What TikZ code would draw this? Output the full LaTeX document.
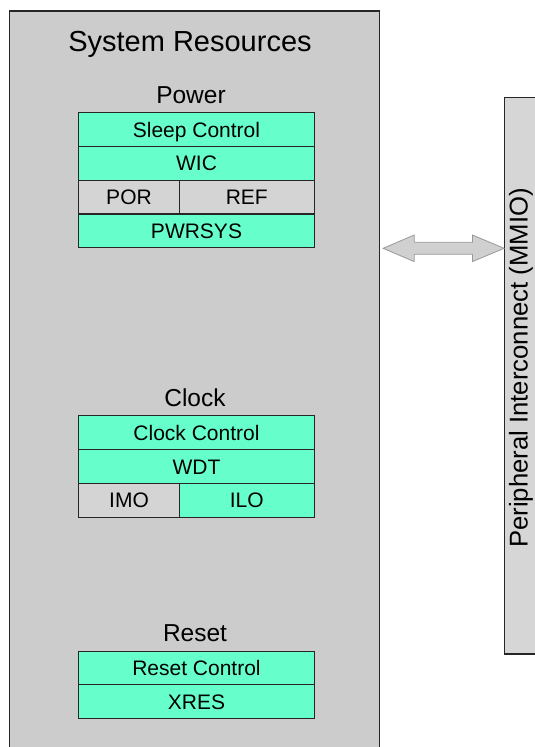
\documentclass[tikz,border=0pt]{standalone}
\usepackage{fontspec}
\setmainfont{Liberation Sans}
\usetikzlibrary{calc}
\definecolor{sysgray}{HTML}{CCCCCC}
\definecolor{mmiogray}{HTML}{D6D6D6}
\definecolor{cellgreen}{HTML}{66FFCC}
\definecolor{cellgray}{HTML}{D4D4D4}
\definecolor{arrowfill}{HTML}{D0D0D0}
\definecolor{arrowline}{HTML}{999999}
\tikzset{
  outerbox/.style={draw=black!85, line width=1.8pt, inner sep=0pt},
  cellbox/.style={draw=black!85, line width=0.9pt, inner sep=0pt, minimum height=33.7pt,
    font=\fontsize{21pt}{23pt}\selectfont, text height=15pt, text depth=0pt},
  greencell/.style={cellbox, fill=cellgreen},
  graycell/.style={cellbox, fill=cellgray},
  fullw/.style={minimum width=235.6pt},
  secttitle/.style={font=\fontsize{24.5pt}{26pt}\selectfont, anchor=base, inner sep=0pt},
}
\begin{document}
\begin{tikzpicture}[x=1pt,y=-1pt]
\clip (0,0) rectangle (535,747);
\fill[white] (0,0) rectangle (535,747);
% outer boxes
\node[outerbox, fill=sysgray, minimum width=370pt, minimum height=760pt] (sys) at (194.5,391) {};
\node[outerbox, fill=mmiogray, minimum width=50pt, minimum height=556.5pt] (mmio) at (529.5,375.75) {};
\node[rotate=90, font=\fontsize{25.7pt}{27pt}\selectfont, inner sep=0pt] (mmiolbl) at (521,368) {Peripheral Interconnect (MMIO)};
% title
\node[font=\fontsize{29pt}{31pt}\selectfont, anchor=base, inner sep=0pt] (title) at (190,51.5) {System Resources};
% Power
\node[secttitle] (power) at (191,103.5) {Power};
\node[greencell, fullw] (sleep) at (196.5,129.5) {Sleep Control};
\node[greencell, fullw] (wic) at (196.5,163.15) {WIC};
\node[graycell, minimum width=100.6pt] (por) at (129,197) {POR};
\node[graycell, minimum width=135pt] (ref) at (246.8,197) {REF};
\node[greencell, fullw] (pwrsys) at (196.5,231) {PWRSYS};
% Clock
\node[secttitle] (clock) at (195,406.7) {Clock};
\node[greencell, fullw] (clkctl) at (196.5,432.7) {Clock Control};
\node[greencell, fullw] (wdt) at (196.5,466.5) {WDT};
\node[graycell, minimum width=100.6pt] (imo) at (129,500.2) {IMO};
\node[greencell, minimum width=135pt] (ilo) at (246.8,500.2) {ILO};
% Reset
\node[secttitle] (reset) at (195,641.7) {Reset};
\node[greencell, fullw] (rstctl) at (196.5,667.8) {Reset Control};
\node[greencell, fullw] (xres) at (196.5,701.5) {XRES};
% double arrow between sys and mmio
\coordinate (aL) at ($(sys.east |- 0,248.3)+(2.8,0)$);
\coordinate (aR) at ($(mmio.west |- 0,248.3)+(0.5,0)$);
\draw[fill=arrowfill, draw=arrowline, line width=0.8pt, line join=miter]
  (aL) -- ($(aL)+(31,-13.3)$) -- ($(aL)+(31,-6)$) -- ($(aR)+(-31.7,-6)$) -- ($(aR)+(-31.7,-13.3)$)
  -- (aR) -- ($(aR)+(-31.7,13.3)$) -- ($(aR)+(-31.7,6)$) -- ($(aL)+(31,6)$) -- ($(aL)+(31,13.3)$) -- cycle;
\end{tikzpicture}
\end{document}
